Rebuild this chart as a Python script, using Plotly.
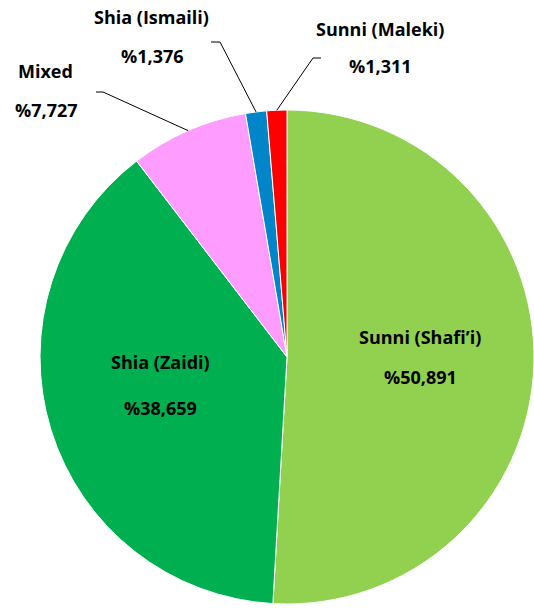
import math
import plotly.graph_objects as go

# ---- data ----
labels = ["Sunni (Shafi\u2019i)", "Shia (Zaidi)", "Mixed", "Shia (Ismaili)", "Sunni (Maleki)"]
values = [50.891, 38.659, 7.727, 1.376, 1.311]
colors = ["#92D050", "#00B050", "#FF9CFF", "#0086C8", "#FF0000"]

W, H = 534, 612
# pie geometry in pixels
R = 247
CX = W - R
CY = 357

def px(x):
    return x / W

def py(y):
    return 1 - y / H

def fmt(v):
    return "%" + f"{v:.3f}".replace(".", ",")

fig = go.Figure(go.Pie(
    labels=labels, values=values, sort=False, direction="clockwise", rotation=0,
    marker=dict(colors=colors, line=dict(color="white", width=1)),
    textinfo="none", hoverinfo="label+value", showlegend=False,
    domain=dict(x=[(CX - R) / W, 1], y=[(H - CY - R) / H, (H - CY + R) / H]),
))

FONT = dict(family="'Open Sans', Lato, sans-serif", size=18, color="black")

# label placements (pixel centres): name line, value line
places = {
    0: ((420, 337), (420, 377)),
    1: ((160, 362), (160, 408)),
    2: ((45, 71), (46, 110)),
    3: ((151, 17), (152, 56)),
    4: ((380, 29), (380, 66)),
}
# leader line elbows (pixel): knee point and end point
leaders = {
    2: ((103, 92), (96, 92)),
    3: ((220, 42), (211, 42)),
    4: ((313, 58), (321, 58)),
}

annotations = []
for i, (lab, v) in enumerate(zip(labels, values)):
    (nx, ny), (vx, vy) = places[i]
    annotations.append(dict(x=px(nx), y=py(ny), xref="paper", yref="paper", text="<b>" + lab + "</b>",
                            showarrow=False, font=FONT, xanchor="center", yanchor="middle"))
    annotations.append(dict(x=px(vx), y=py(vy), xref="paper", yref="paper", text="<b>" + fmt(v) + "</b>",
                            showarrow=False, font=FONT, xanchor="center", yanchor="middle"))

shapes = []
total = sum(values)
cum = 0.0
for i, v in enumerate(values):
    mid = (cum + v / 2) / total * 2 * math.pi
    cum += v
    if i in leaders:
        sx = CX + R * math.sin(mid)
        sy = CY - R * math.cos(mid)
        (kx, ky), (ex, ey) = leaders[i]
        path = f"M {px(sx)} {py(sy)} L {px(kx)} {py(ky)} L {px(ex)} {py(ey)}"
        shapes.append(dict(type="path", path=path, xref="paper", yref="paper",
                           line=dict(color="black", width=1)))

fig.update_layout(
    width=W, height=H, margin=dict(l=0, r=0, t=0, b=0),
    paper_bgcolor="white", plot_bgcolor="white",
    annotations=annotations, shapes=shapes,
)

fig.write_html("out.html", config={"displayModeBar": False},
               post_script="document.body.style.margin='0';document.body.style.overflow='hidden';")
